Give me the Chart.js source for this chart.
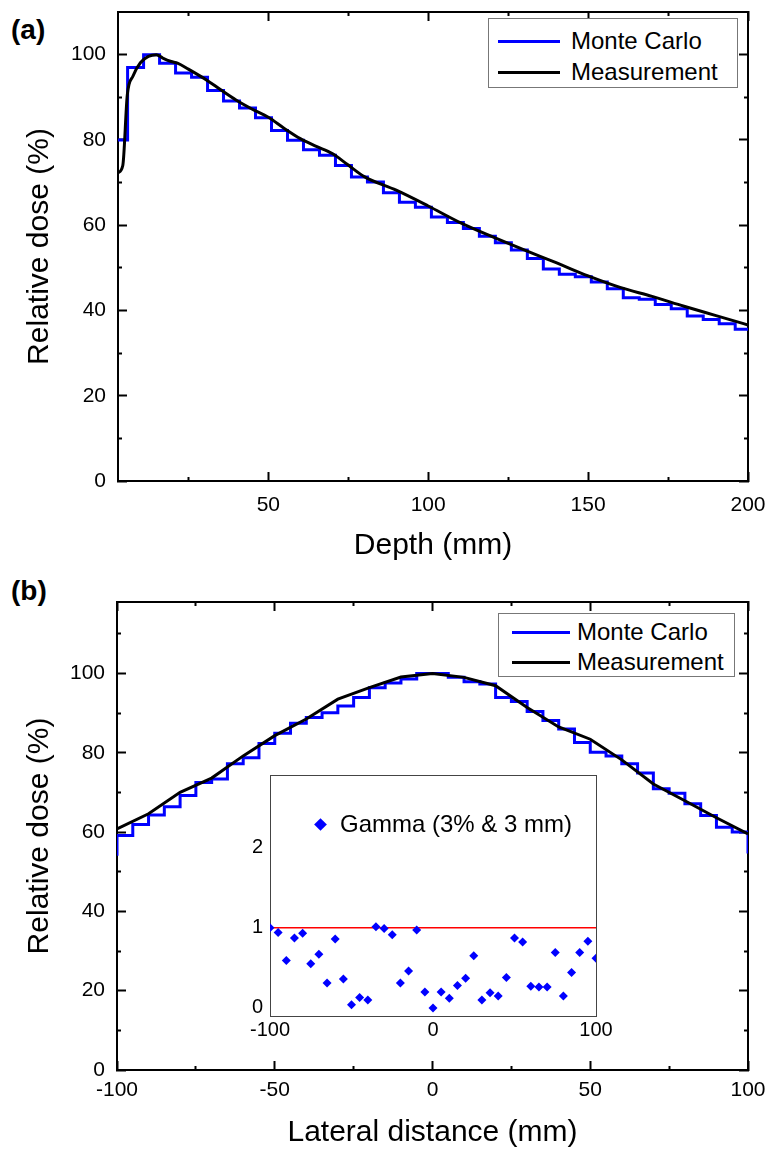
<!DOCTYPE html>
<html>
<head>
<meta charset="utf-8">
<script src="https://cdn.jsdelivr.net/npm/chart.js@4.4.1/dist/chart.umd.min.js"></script>
<style>
html,body{margin:0;padding:0;background:#fff;}
body{width:769px;height:1150px;position:relative;overflow:hidden;font-family:'Liberation Sans',Arial,sans-serif;color:#000;}
canvas{position:absolute;}
.panel{position:absolute;font-weight:bold;font-size:28px;line-height:28px;}
.legend{position:absolute;border:1px solid #777;background:#fff;box-sizing:border-box;}
.lg-line{position:absolute;height:3px;}
.lg-text{position:absolute;font-size:24px;line-height:24px;white-space:nowrap;}
.lg-diamond{position:absolute;width:9px;height:9px;transform:rotate(45deg);}
</style>
</head>
<body>
<div class="panel" style="left:11px;top:16px">(a)</div>
<div class="panel" style="left:11px;top:577px">(b)</div>
<canvas id="c1" width="769" height="575" style="left:0;top:0"></canvas>
<canvas id="c2" width="769" height="575" style="left:0;top:575px"></canvas>
<canvas id="c3" width="420" height="290" style="left:200px;top:760px"></canvas>
<div id="lg1" class="legend"></div>
<div id="lg2" class="legend"></div>
<script>
// ---------------- DATA ----------------
// (a) depth dose: Monte Carlo histogram bin edges (left edges + final right edge) and bin values
const depthBinEdges = [1,6,11,16,21,26,31,36,41,46,51,56,61,66,71,76,81,86,91,96,101,106,111,116,121,126,131,136,141,146,151,156,161,166,171,176,181,186,191,196,201];
const mcDepthDose = [80,97,100,98,95.7,94.7,91.6,89.1,87.5,85.2,82.2,79.9,77.7,76.4,74.0,71.3,70.1,67.6,65.4,64.2,61.9,60.6,59.2,57.4,55.9,54.2,52.2,49.7,48.5,47.9,46.7,45.1,43.0,42.6,41.4,40.4,38.7,37.9,36.9,35.6];
// (a) depth dose: measurement
const measDepth = [3,4.5,5.9,7.7,10,12.5,15,17,19.6,21.6,25,31,35,40,45,50,55,60,65,70,75,80,90,100,110,120,130,140,150,160,170,180,190,200];
const measDepthDose = [72.3,74,90.5,95,98.1,99.6,100,99.2,98.4,98,96.6,93.9,91.8,89.3,87.2,85.3,82.7,80.3,78.5,76.8,74.1,71.4,68.2,64.5,60.6,57.3,54.2,51.2,48.1,45.4,43.3,41.0,38.8,36.6];
// (b) lateral profile: Monte Carlo histogram
const lateralBinEdges = [-100,-95,-90,-85,-80,-75,-70,-65,-60,-55,-50,-45,-40,-35,-30,-25,-20,-15,-10,-5,0,5,10,15,20,25,30,35,40,45,50,55,60,65,70,75,80,85,90,95,100];
const mcLateralDose = [59.1,61.9,64.3,66.4,69.2,72.5,73.4,77.2,78.7,82.3,84.9,87.4,88.9,90.1,91.8,93.9,96.4,97.6,98.6,100,100,99,97.9,97.3,93.9,92.9,90.4,88.1,86.0,82.6,80.1,79.2,77.2,74.9,70.9,69.8,67.1,64.2,61.2,60.0];
const mcLateralEdgeDose = [54.0,54.6]; // where the histogram outline ends at -100 and +100
// (b) lateral profile: measurement
const measLateral = [-100,-90,-80,-70,-60,-50,-40,-30,-20,-10,0,10,20,30,40,50,60,70,80,90,100];
const measLateralDose = [60.8,64.6,70.0,73.6,79.2,84.3,88.5,93.5,96.4,99.1,100,99.0,96.9,91.4,86.5,83.4,78.2,72.1,67.9,63.6,59.5];
// inset: gamma index
const gammaX = [-100,-95,-90,-85,-80,-75,-70,-65,-60,-55,-50,-45,-40,-35,-30,-25,-20,-15,-10,-5,0,5,10,15,20,25,30,35,40,45,50,55,60,65,70,75,80,85,90,95,100];
const gammaValue = [1.0,0.94,0.59,0.87,0.93,0.55,0.67,0.31,0.86,0.36,0.04,0.13,0.10,1.01,0.99,0.91,0.31,0.46,0.97,0.20,0.0,0.20,0.12,0.28,0.37,0.65,0.10,0.19,0.15,0.38,0.87,0.82,0.27,0.26,0.26,0.69,0.15,0.44,0.69,0.83,0.62];
const gammaThreshold = 1;
// ticks
const depthTicksMajor = [50,100,150,200];
const depthTicksMinor = [25,75,125,175];
const doseTicksMajor = [0,20,40,60,80,100];
const doseTicksMinorA = [10,30,50,70,90];
const doseTicksMinorB = [10,30,50,70,90,110];
const lateralTicksMajor = [-100,-50,0,50,100];
const lateralTicksMinor = [-75,-25,25,75];
const gammaTicksX = [-100,0,100];
const gammaTicksY = [0,1,2];
// labels
const seriesNames = ['Monte Carlo','Measurement'];
const gammaName = 'Gamma (3% & 3 mm)';

// ---------------- CHARTS ----------------
Chart.defaults.font.family = "'Liberation Sans', Arial, sans-serif";
Chart.defaults.color = '#000';
const BLUE = '#0000ff';

function stepPoints(edges, values, startVal, endVal){
  const pts = [];
  if (startVal != null) pts.push({x: edges[0], y: startVal});
  values.forEach((v,i)=>pts.push({x: edges[i], y: v}));
  pts.push({x: edges[edges.length-1], y: values[values.length-1]});
  if (endVal != null) pts.push({x: edges[edges.length-1], y: endVal});
  return pts;
}
function zip(xs, ys){ return xs.map((x,i)=>({x, y: ys[i]})); }

// axis with inward tick marks; minor ticks are shortened with a dash pattern
function mkAxis(pos, min, max, majors, minors, o){
  const axis = (pos==='left'||pos==='right') ? 'y' : 'x';
  const all = majors.concat(minors).sort((a,b)=>a-b);
  const minorSet = new Set(minors);
  const inside = (pos==='left'||pos==='top');   // tick path starts at the inner end
  const tl = o.tl || 0;
  return {
    type:'linear', axis, position: pos, min, max, display:true,
    afterBuildTicks: s => { s.ticks = all.map(v=>({value:v})); },
    ticks:{display: !!o.labels, autoSkip:false, maxRotation:0, padding: o.pad||0,
      font:{size: o.fs||21}, color:'#000',
      callback: v => minorSet.has(v) ? '' : String(v)},
    grid:{drawOnChartArea:false, drawTicks: tl !== 0, tickLength: tl, tickWidth:2, tickColor:'#000',
      tickBorderDash: c => (c.tick && minorSet.has(c.tick.value)) ? (inside ? [5,5] : [5,20]) : [],
      tickBorderDashOffset: c => (c.tick && minorSet.has(c.tick.value) && inside) ? 5 : 0},
    border:{display:true, color: o.bc||'#000', width: o.bw||2},
    title: o.title ? {display:true, text:o.title, font:{size:30, lineHeight:1}, color:'#000', padding:o.tpad} : {display:false},
    afterFit: s => {
      if (axis==='x') s.height = o.size || 0; else s.width = o.size || 0;
      s.paddingTop = 0; s.paddingBottom = 0; s.paddingLeft = 0; s.paddingRight = 0;
    }
  };
}

const common = { responsive:false, animation:false, events:[] };
const pluginsOff = {legend:{display:false}, tooltip:{enabled:false}};

const chartA = new Chart(document.getElementById('c1'), {
  type:'line',
  data:{datasets:[
    {label:seriesNames[0], data: stepPoints(depthBinEdges, mcDepthDose), stepped:'before',
     borderColor:BLUE, borderWidth:3, pointRadius:0, fill:false, order:2},
    {label:seriesNames[1], data: zip(measDepth, measDepthDose), cubicInterpolationMode:'monotone',
     borderColor:'#000', borderWidth:3, pointRadius:0, fill:false, order:1}
  ]},
  options:Object.assign({}, common, {
    plugins: pluginsOff,
    layout:{padding:{left:0, top:12, right:21, bottom:0}},
    scales:{
      x: mkAxis('bottom', 3, 200, depthTicksMajor, depthTicksMinor, {labels:true, tl:-9, pad:21, size:94, title:'Depth (mm)', tpad:{top:0,bottom:14}}),
      y: mkAxis('left', 0, 110, doseTicksMajor, doseTicksMinorA, {labels:true, tl:-9, pad:21, size:118, title:'Relative dose (%)', tpad:{top:25,bottom:0}}),
      x2: mkAxis('top', 3, 200, depthTicksMajor, depthTicksMinor, {tl:-9, size:0}),
      y2: mkAxis('right', 0, 110, doseTicksMajor, doseTicksMinorA, {tl:-9, size:0})
    }
  })
});

const chartB = new Chart(document.getElementById('c2'), {
  type:'line',
  data:{datasets:[
    {label:seriesNames[0], data: stepPoints(lateralBinEdges, mcLateralDose, mcLateralEdgeDose[0], mcLateralEdgeDose[1]), stepped:'before',
     borderColor:BLUE, borderWidth:3, pointRadius:0, fill:false, order:2},
    {label:seriesNames[1], data: zip(measLateral, measLateralDose), tension:0,
     borderColor:'#000', borderWidth:3, pointRadius:0, fill:false, order:1}
  ]},
  options:Object.assign({}, common, {
    plugins: pluginsOff,
    layout:{padding:{left:0, top:27, right:21, bottom:0}},
    scales:{
      x: mkAxis('bottom', -100, 100, lateralTicksMajor, lateralTicksMinor, {labels:true, tl:-9, pad:17, size:80, title:'Lateral distance (mm)', tpad:{top:0,bottom:2}}),
      y: mkAxis('left', 0, 118, doseTicksMajor, doseTicksMinorB, {labels:true, tl:-9, pad:21, size:117, title:'Relative dose (%)', tpad:{top:25,bottom:0}}),
      x2: mkAxis('top', -100, 100, lateralTicksMajor, lateralTicksMinor, {tl:-9, size:0}),
      y2: mkAxis('right', 0, 118, doseTicksMajor, doseTicksMinorB, {tl:-9, size:0})
    }
  })
});

const chartC = new Chart(document.getElementById('c3'), {
  type:'scatter',
  data:{datasets:[
    {label:gammaName, data: zip(gammaX, gammaValue), pointStyle:'rectRot', pointRadius:4.5,
     backgroundColor:BLUE, borderColor:BLUE, borderWidth:0, showLine:false, order:1},
    {label:'', type:'line', data:[{x:gammaX[0], y:gammaThreshold},{x:gammaX[gammaX.length-1], y:gammaThreshold}],
     borderColor:'#ff0000', borderWidth:1.5, pointRadius:0, fill:false, order:2}
  ]},
  options:Object.assign({}, common, {
    plugins: pluginsOff,
    layout:{padding:{left:0, top:15, right:24, bottom:0}},
    scales:{
      x: mkAxis('bottom', -100, 100, gammaTicksX, [], {labels:true, pad:2, fs:20, size:34, bc:'#444', bw:1}),
      y: mkAxis('left', -0.1, 2.9, gammaTicksY, [], {labels:true, pad:7, fs:20, size:70, bc:'#444', bw:1}),
      x2: mkAxis('top', -100, 100, [], [], {size:0, bc:'#444', bw:1}),
      y2: mkAxis('right', -0.1, 2.9, [], [], {size:0, bc:'#444', bw:1})
    }
  })
});

// ---------------- HTML LEGENDS (built from the chart datasets) ----------------
function lineLegend(chart, el, L){
  el.style.left = L.left+'px'; el.style.top = L.top+'px';
  el.style.width = L.w+'px'; el.style.height = L.h+'px';
  chart.data.datasets.forEach((ds,i)=>{
    const cy = L.rows[i];
    const ln = document.createElement('div'); ln.className='lg-line';
    ln.style.left = L.lineX+'px'; ln.style.width = L.lineW+'px'; ln.style.top = (cy-1.5)+'px';
    ln.style.background = ds.borderColor; el.appendChild(ln);
    const tx = document.createElement('div'); tx.className='lg-text';
    tx.style.left = L.textX+'px'; tx.style.top = (cy-12)+'px'; tx.textContent = ds.label; el.appendChild(tx);
  });
}
lineLegend(chartA, document.getElementById('lg1'), {left:488, top:18, w:250, h:70, lineX:9, lineW:62, textX:82, rows:[22,53]});
lineLegend(chartB, document.getElementById('lg2'), {left:498, top:613, w:237, h:64, lineX:13, lineW:58, textX:78, rows:[18,48]});

(function(){
  const ds = chartC.data.datasets[0];
  const d = document.createElement('div'); d.className='lg-diamond';
  d.style.left = (320-4.5)+'px'; d.style.top = (824-4.5)+'px'; d.style.background = ds.backgroundColor;
  document.body.appendChild(d);
  const tx = document.createElement('div'); tx.className='lg-text';
  tx.style.left='340px'; tx.style.top=(824-12)+'px'; tx.textContent = ds.label;
  document.body.appendChild(tx);
})();
</script>
</body>
</html>
